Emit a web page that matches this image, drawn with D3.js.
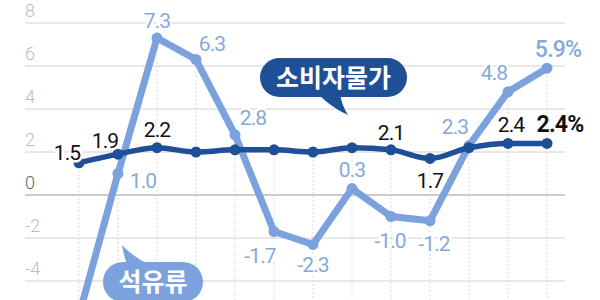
<!DOCTYPE html>
<html>
<head>
<meta charset="UTF-8">
<script src="https://cdn.jsdelivr.net/npm/d3@7"></script>
<style>
  body { margin: 0; background: #fff; }
  svg { display: block; }
</style>
</head>
<body>
<div id="chart"></div>
<script>
// data
const months = d3.range(13);
const cpi = [1.5, 1.9, 2.2, 2.0, 2.1, 2.1, 2.0, 2.2, 2.1, 1.7, 2.2, 2.4, 2.4];
const oil = [-5.6, 1.0, 7.3, 6.3, 2.8, -1.7, -2.3, 0.3, -1.0, -1.2, 2.3, 4.8, 5.9];
const yTicks = [8, 6, 4, 2, 0, -2, -4];
// which points get a value label
const cpiLabels = [0, 1, 2, 8, 9, 11, 12];
const oilLabels = [1, 2, 3, 4, 5, 6, 7, 8, 9, 10, 11, 12];

// label offsets (layout only)
const cpiOff = {0: [-12, -3], 1: [-13, -6], 2: [0, -11], 8: [0, -10], 9: [0, 30], 11: [3, -11], 12: [13, -11]};
const oilOff = {1: [25, 14], 2: [0, -10], 3: [16, -9], 4: [18, -10], 5: [-14, 31], 6: [0, 28], 7: [0, -12],
                8: [-1, 31], 9: [4, 30], 10: [-14, -12], 11: [-14, -12], 12: [11, -11]};

const width = 600, height = 300;
const dark = "#1f4f96", light = "#7ba2dc", lightText = "#86a9dd";

const svg = d3.select("#chart").append("svg")
  .attr("width", width).attr("height", height);

const x = d3.scaleLinear().domain([0, 12]).range([79, 547]);
const y = d3.scaleLinear().domain([0, 8]).range([195, 23]);

// gridlines
svg.append("g").selectAll("line").data(yTicks).join("line")
  .attr("x1", 25).attr("x2", 565)
  .attr("y1", d => y(d)).attr("y2", d => y(d))
  .attr("stroke", d => d === 0 ? "#9a9a9a" : "#d2d2d2")
  .attr("stroke-width", 1.2);

svg.append("g").selectAll("text").data(yTicks).join("text")
  .attr("x", 25).attr("y", d => y(d) - 6)
  .attr("font-family", "Roboto, sans-serif")
  .attr("font-weight", 300)
  .attr("font-size", 18)
  .attr("fill", d => d === 0 ? "#666" : "#bdbdbd")
  .text(d => d);

// dotted verticals
svg.append("g").selectAll("line").data(months).join("line")
  .attr("x1", d => x(d)).attr("x2", d => x(d))
  .attr("y1", d => Math.min(y(cpi[d]), y(oil[d])))
  .attr("y2", height)
  .attr("stroke", "#cfcfcf")
  .attr("stroke-dasharray", "1.5,2.5")
  .attr("stroke-width", 1);

// oil line
svg.append("path").datum(months)
  .attr("fill", "none").attr("stroke", light).attr("stroke-width", 7)
  .attr("stroke-linejoin", "round")
  .attr("d", d3.line().x(d => x(d)).y(d => y(oil[d])));
svg.append("g").selectAll("circle").data(months).join("circle")
  .attr("cx", d => x(d)).attr("cy", d => y(oil[d])).attr("r", 5.5).attr("fill", light);

// cpi line
svg.append("path").datum(months)
  .attr("fill", "none").attr("stroke", dark).attr("stroke-width", 5.5)
  .attr("d", d3.line().curve(d3.curveMonotoneX).x(d => x(d)).y(d => y(cpi[d])));
svg.append("g").selectAll("circle").data(months).join("circle")
  .attr("cx", d => x(d)).attr("cy", d => y(cpi[d])).attr("r", 5.5).attr("fill", dark);

// value labels
function labels(idx, vals, off, color, last) {
  svg.append("g").selectAll("text").data(idx).join("text")
    .attr("x", d => x(d) + off[d][0])
    .attr("y", d => y(vals[d]) + off[d][1])
    .attr("text-anchor", "middle")
    .attr("font-family", "Roboto, sans-serif")
    .attr("font-size", d => d === 12 ? 23 : 21)
    .attr("font-weight", d => d === 12 ? last : 400)
    .attr("letter-spacing", -0.8)
    .attr("fill", color)
    .attr("stroke", "#fff").attr("stroke-width", 5)
    .attr("paint-order", "stroke")
    .text(d => d === 12 ? vals[d] + "%" : vals[d].toFixed(1));
}
labels(oilLabels, oil, oilOff, lightText, 500);
labels(cpiLabels, cpi, cpiOff, "#111", 700);

// callouts
function bubble(x0, y0, w, h, tail, color, label) {
  const g = svg.append("g");
  g.append("path").attr("fill", color).attr("d", tail);
  g.append("rect").attr("x", x0).attr("y", y0).attr("width", w).attr("height", h)
    .attr("rx", h / 2).attr("fill", color);
  g.append("text").attr("x", x0 + w / 2).attr("y", y0 + h / 2 + 9)
    .attr("text-anchor", "middle")
    .attr("font-family", "'Noto Sans CJK KR', sans-serif")
    .attr("font-weight", 700).attr("font-size", 25)
    .attr("fill", "#fff").text(label);
}
bubble(260, 58, 147, 39, "M318,94 L340,94 Q342,106 348,115 Q332,108 318,94 Z", dark, "소비자물가");
bubble(103, 262, 100, 40, "M128,266 L152,266 Q134,258 122,245 Q124,258 128,266 Z", light, "석유류");
</script>
</body>
</html>
